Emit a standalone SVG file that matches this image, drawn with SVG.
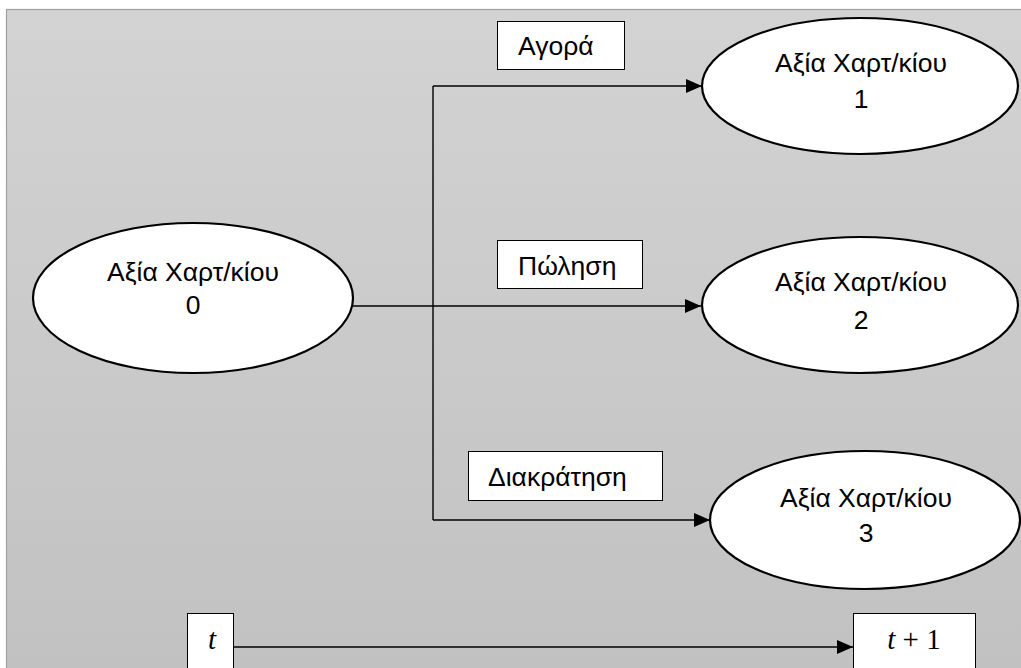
<svg xmlns="http://www.w3.org/2000/svg" width="1021" height="668" viewBox="0 0 1021 668">
<defs>
<linearGradient id="bg" x1="0" y1="0" x2="0" y2="1">
<stop offset="0" stop-color="#d3d3d3"/>
<stop offset="1" stop-color="#c1c1c1"/>
</linearGradient>
<marker id="arr" markerWidth="16" markerHeight="14" refX="16" refY="7" orient="auto" markerUnits="userSpaceOnUse">
<path d="M0,0 L16,7 L0,14 Z" fill="#000"/>
</marker>
<style>
.node ellipse{fill:#fff;stroke:#000;stroke-width:2.2}
.lbl rect,.tb rect{fill:#fff;stroke:#000;stroke-width:1}
.t{font-family:"Liberation Sans",Arial,sans-serif;font-size:26.5px;fill:#000}
.m{font-family:"Liberation Serif","Times New Roman",serif;font-size:29px;fill:#000}
.c line,.c polyline{stroke:#000;stroke-width:1.4;fill:none}
</style>
</defs>
<rect x="0" y="0" width="1021" height="668" fill="#fff"/>
<rect x="6.5" y="9.5" width="1020" height="670" fill="url(#bg)" stroke="#a0a0a0" stroke-width="1.2"/>
<g id="connectors" class="c">
<line x1="353" y1="306" x2="701" y2="306" marker-end="url(#arr)"/>
<line x1="433" y1="86" x2="433" y2="520"/>
<line x1="433" y1="86" x2="702" y2="86" marker-end="url(#arr)"/>
<line x1="433" y1="520" x2="710" y2="520" marker-end="url(#arr)"/>
<line x1="233" y1="647" x2="853" y2="647" marker-end="url(#arr)"/>
</g>
<g id="node0" class="node">
<ellipse cx="193" cy="298" rx="160" ry="75"/>
<text class="t" x="193" y="281" text-anchor="middle">Αξία Χαρτ/κίου</text>
<text class="t" x="193" y="314" text-anchor="middle">0</text>
</g>
<g id="node1" class="node">
<ellipse cx="860" cy="86" rx="158" ry="68"/>
<text class="t" x="861" y="72" text-anchor="middle">Αξία Χαρτ/κίου</text>
<text class="t" x="861" y="108" text-anchor="middle">1</text>
</g>
<g id="node2" class="node">
<ellipse cx="860" cy="305" rx="158" ry="68"/>
<text class="t" x="861" y="291" text-anchor="middle">Αξία Χαρτ/κίου</text>
<text class="t" x="861" y="329" text-anchor="middle">2</text>
</g>
<g id="node3" class="node">
<ellipse cx="865" cy="520" rx="155" ry="69"/>
<text class="t" x="866" y="507" text-anchor="middle">Αξία Χαρτ/κίου</text>
<text class="t" x="866" y="542" text-anchor="middle">3</text>
</g>
<g id="label-agora" class="lbl">
<rect x="497.5" y="21.5" width="127" height="48"/>
<text class="t" x="518" y="55">Αγορά</text>
</g>
<g id="label-polisi" class="lbl">
<rect x="497.5" y="240.5" width="145" height="48"/>
<text class="t" x="518" y="275">Πώληση</text>
</g>
<g id="label-diakratisi" class="lbl">
<rect x="468.5" y="451.5" width="194" height="49"/>
<text class="t" x="488" y="486">Διακράτηση</text>
</g>
<g id="node-t" class="tb">
<rect x="187.5" y="613.5" width="46" height="60"/>
<text class="m" x="212" y="649" text-anchor="middle" font-style="italic">t</text>
</g>
<g id="node-t1" class="tb">
<rect x="853.5" y="613.5" width="122" height="60"/>
<text class="m" x="914" y="649" text-anchor="middle"><tspan font-style="italic">t</tspan> + 1</text>
</g>
</svg>
